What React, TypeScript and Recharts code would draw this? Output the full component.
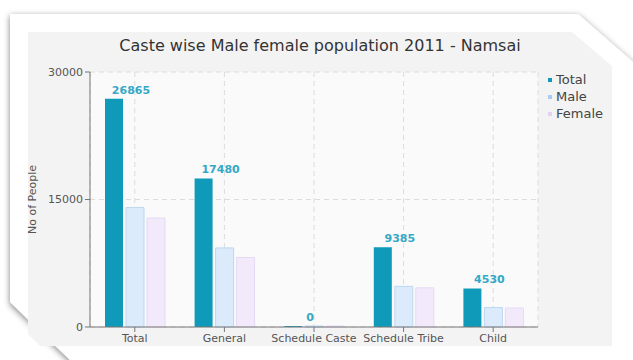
import { BarChart, Bar, XAxis, YAxis, CartesianGrid, Legend, LabelList, Label } from "recharts"

const categories = ["Total", "General", "Schedule Caste", "Schedule Tribe", "Child"]
const totalValues = [26865, 17480, 0, 9385, 4530]
const maleValues = [14050, 9300, 0, 4780, 2290]
const femaleValues = [12815, 8180, 0, 4605, 2240]
const yTicks = [0, 15000, 30000]

const data = categories.map((name, i) => ({
  name,
  Total: totalValues[i],
  Male: maleValues[i],
  Female: femaleValues[i],
}))

const FONT = "'DejaVu Sans', Verdana, sans-serif"

const legendItems = [
  { label: "Total", color: "#0e9ab8" },
  { label: "Male", color: "#a9cdf0" },
  { label: "Female", color: "#e3d3f3" },
]

function LegendBox() {
  return (
    <div style={{ fontFamily: FONT, fontSize: 13, color: "#444", lineHeight: "17px" }}>
      {legendItems.map((it) => (
        <div key={it.label} style={{ display: "flex", alignItems: "center" }}>
          <span style={{ width: 4, height: 4, background: it.color, marginRight: 4, display: "inline-block" }} />
          {it.label}
        </div>
      ))}
    </div>
  )
}

function ValueLabel(props: any) {
  const { x, y, width, value } = props
  return (
    <text x={x + width / 2 + 17} y={y - 5} textAnchor="middle" fill="#35a8c6" fontSize={11} fontWeight="bold" fontFamily={FONT}>
      {value}
    </text>
  )
}

function Frame() {
  return (
    <svg width={633} height={360} style={{ position: "absolute", left: 0, top: 0 }}>
      <defs>
        <filter id="sh" x="-10%" y="-10%" width="120%" height="120%">
          <feDropShadow dx="0" dy="2" stdDeviation="3" floodColor="#000" floodOpacity="0.5" />
        </filter>
      </defs>
      <rect width={633} height={360} fill="#fff" />
      <polygon points="10,14 578,14 633,62 633,360 70,360 10,302" fill="#fff" filter="url(#sh)" />
      <polygon points="28,32 572,32 612,66 612,346 40,346 28,334" fill="#f3f3f3" />
    </svg>
  )
}

export default function App() {
  return (
    <div style={{ position: "relative", width: 633, height: 360 }}>
      <style>{`body{margin:0}`}</style>
      <Frame />
      <div style={{ position: "absolute", left: 0, top: 0 }}>
        <BarChart width={633} height={360} data={data} margin={{ top: 72, right: 95, bottom: 0, left: 28 }} barSize={18} barGap={3}>
          <text x={320} y={51} textAnchor="middle" fontSize={16} fill="#333" fontFamily={FONT}>
            Caste wise Male female population 2011 - Namsai
          </text>
          <CartesianGrid fill="#fafafa" stroke="#dcdcdc" strokeDasharray="5 4" />
          <XAxis
            dataKey="name"
            height={33}
            interval={0}
            stroke="#777"
            tickSize={5}
            tick={{ fontSize: 11, fill: "#555", fontFamily: FONT }}
          />
          <YAxis
            width={62}
            domain={[0, 30000]}
            ticks={yTicks}
            stroke="#777"
            tickSize={5}
            tick={{ fontSize: 11, fill: "#555", fontFamily: FONT }}
          >
            <Label value="No of People" angle={-90} position="insideLeft" offset={4} style={{ fontSize: 11, fill: "#555", fontFamily: FONT, textAnchor: "middle" }} />
          </YAxis>
          <Legend
            layout="vertical"
            align="center"
            verticalAlign="middle"
            content={<LegendBox />}
            wrapperStyle={{ left: 548, top: 71, width: 80 }}
          />
          <Bar dataKey="Total" fill="#0e9ab8" minPointSize={1} isAnimationActive={false}>
            <LabelList dataKey="Total" content={<ValueLabel />} />
          </Bar>
          <Bar dataKey="Male" fill="#dcebfb" stroke="#bcd7f1" minPointSize={1} isAnimationActive={false} />
          <Bar dataKey="Female" fill="#f2eafb" stroke="#e5d9f4" minPointSize={1} isAnimationActive={false} />
        </BarChart>
      </div>
    </div>
  )
}
